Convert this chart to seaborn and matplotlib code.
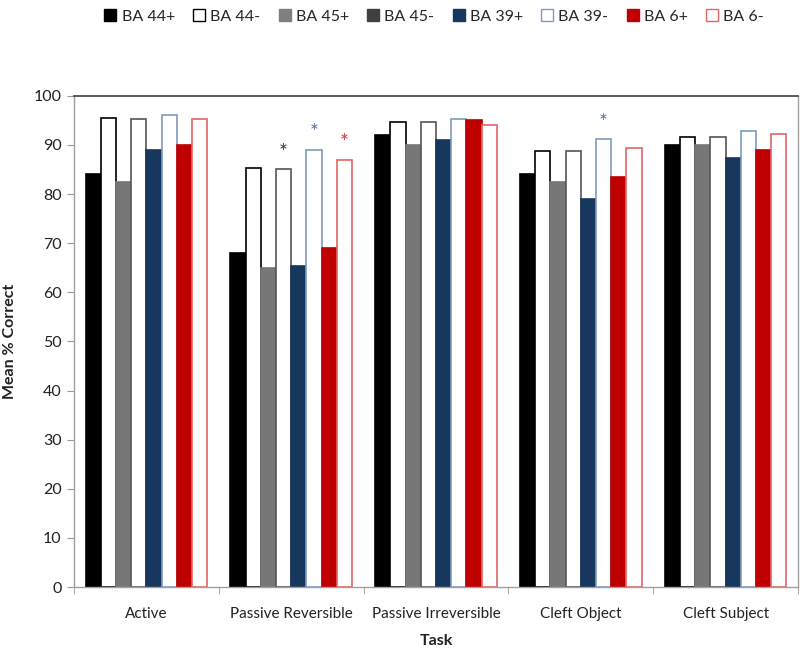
import matplotlib
matplotlib.use("Agg")
import matplotlib.pyplot as plt
from matplotlib.lines import Line2D
import seaborn as sns
import pandas as pd
import numpy as np

tasks = ["Active", "Passive Reversible", "Passive Irreversible", "Cleft Object", "Cleft Subject"]
regions = ["BA 44+", "BA 44-", "BA 45+", "BA 45-", "BA 39+", "BA 39-", "BA 6+", "BA 6-"]
ba44p = [84.0, 68.0, 92.0, 84.0, 90.0]
ba44m = [95.5, 85.2, 94.6, 88.8, 91.6]
ba45p = [82.5, 65.0, 90.0, 82.5, 90.0]
ba45m = [95.2, 85.0, 94.6, 88.8, 91.6]
ba39p = [89.0, 65.3, 91.0, 79.0, 87.3]
ba39m = [96.0, 89.0, 95.3, 91.2, 92.8]
ba6p = [90.0, 69.0, 95.0, 83.5, 89.0]
ba6m = [95.2, 87.0, 94.1, 89.4, 92.2]
series = [ba44p, ba44m, ba45p, ba45m, ba39p, ba39m, ba6p, ba6m]
# significance markers: (task, region)
stars = [("Passive Reversible", "BA 45-"), ("Passive Reversible", "BA 39-"),
         ("Passive Reversible", "BA 6-"), ("Cleft Object", "BA 39-")]

faces = ["#000000", "#FFFFFF", "#777777", "#FFFFFF", "#17375E", "#FFFFFF", "#C00000", "#FFFFFF"]
edges = ["#000000", "#000000", "#777777", "#555555", "#17375E", "#7F9CC0", "#C00000", "#E06666"]
legend_faces = ["#000000", "#FFFFFF", "#7F7F7F", "#404040", "#17375E", "#FFFFFF", "#C00000", "#FFFFFF"]
legend_edges = ["#000000", "#000000", "#7F7F7F", "#404040", "#17375E", "#7F9CC0", "#C00000", "#E06666"]
star_colors = {"BA 45-": "#333333", "BA 39-": "#4F6FA0", "BA 6-": "#E03030"}

rows = []
for r, vals in zip(regions, series):
    for t, v in zip(tasks, vals):
        rows.append({"Task": t, "Region": r, "Value": v})
df = pd.DataFrame(rows)

sns.set_style("white")
plt.rcParams["font.family"] = ["Lato", "DejaVu Sans"]

fig = plt.figure(figsize=(8, 6.56), dpi=100)
ax = fig.add_axes([0.0925, 0.105, 0.905, 0.749])

width = 0.84
sns.barplot(data=df, x="Task", y="Value", hue="Region", order=tasks, hue_order=regions,
            width=width, palette=faces, ax=ax, legend=False, errorbar=None, saturation=1)

for i, cont in enumerate(ax.containers):
    for p in cont.patches:
        p.set_facecolor(faces[i])
        p.set_edgecolor(edges[i])
        p.set_linewidth(1.2)

bw = width / len(regions)
for t, r in stars:
    ti = tasks.index(t)
    ri = regions.index(r)
    x = ti - width / 2 + bw * (ri + 0.5)
    v = series[ri][ti]
    ax.text(x, v + 1.3, "*", ha="center", va="bottom", fontsize=15,
            color=star_colors[r])

ax.set_ylim(0, 100)
ax.set_xlim(-0.5, len(tasks) - 0.5)
ax.set_yticks(np.arange(0, 101, 10))
ax.tick_params(axis="y", which="both", left=True, length=5, color="#999999",
               labelsize=11.5, labelcolor="#222222", pad=4)
ax.set_xticks(range(len(tasks)))
ax.set_xticklabels(tasks, fontsize=11, color="#222222")
ax.tick_params(axis="x", which="major", length=0, pad=14)
ax.set_xticks(np.arange(-0.5, len(tasks), 1.0), minor=True)
ax.tick_params(axis="x", which="minor", length=5, color="#999999", bottom=True)

ax.set_xlabel("Task", fontsize=11.5, fontweight="bold", labelpad=10, color="#222222")
ax.set_ylabel("Mean % Correct", fontsize=11.5, fontweight="bold", labelpad=12, color="#222222")

for s in ["left", "bottom", "right"]:
    ax.spines[s].set_color("#A0A0A0")
    ax.spines[s].set_linewidth(1.0)
ax.spines["top"].set_color("#404040")
ax.spines["top"].set_linewidth(1.2)

handles = [Line2D([0], [0], marker="s", linestyle="None", markersize=9,
                  markerfacecolor=legend_faces[i], markeredgecolor=legend_edges[i],
                  markeredgewidth=1.0) for i in range(len(regions))]
fig.legend(handles, regions, loc="upper left", bbox_to_anchor=(0.118, 1.0), ncol=8,
           frameon=False, fontsize=11.5, handlelength=0.8, handletextpad=0.3,
           columnspacing=1.12, borderaxespad=0.2)

fig.savefig("out.png", dpi=100)
